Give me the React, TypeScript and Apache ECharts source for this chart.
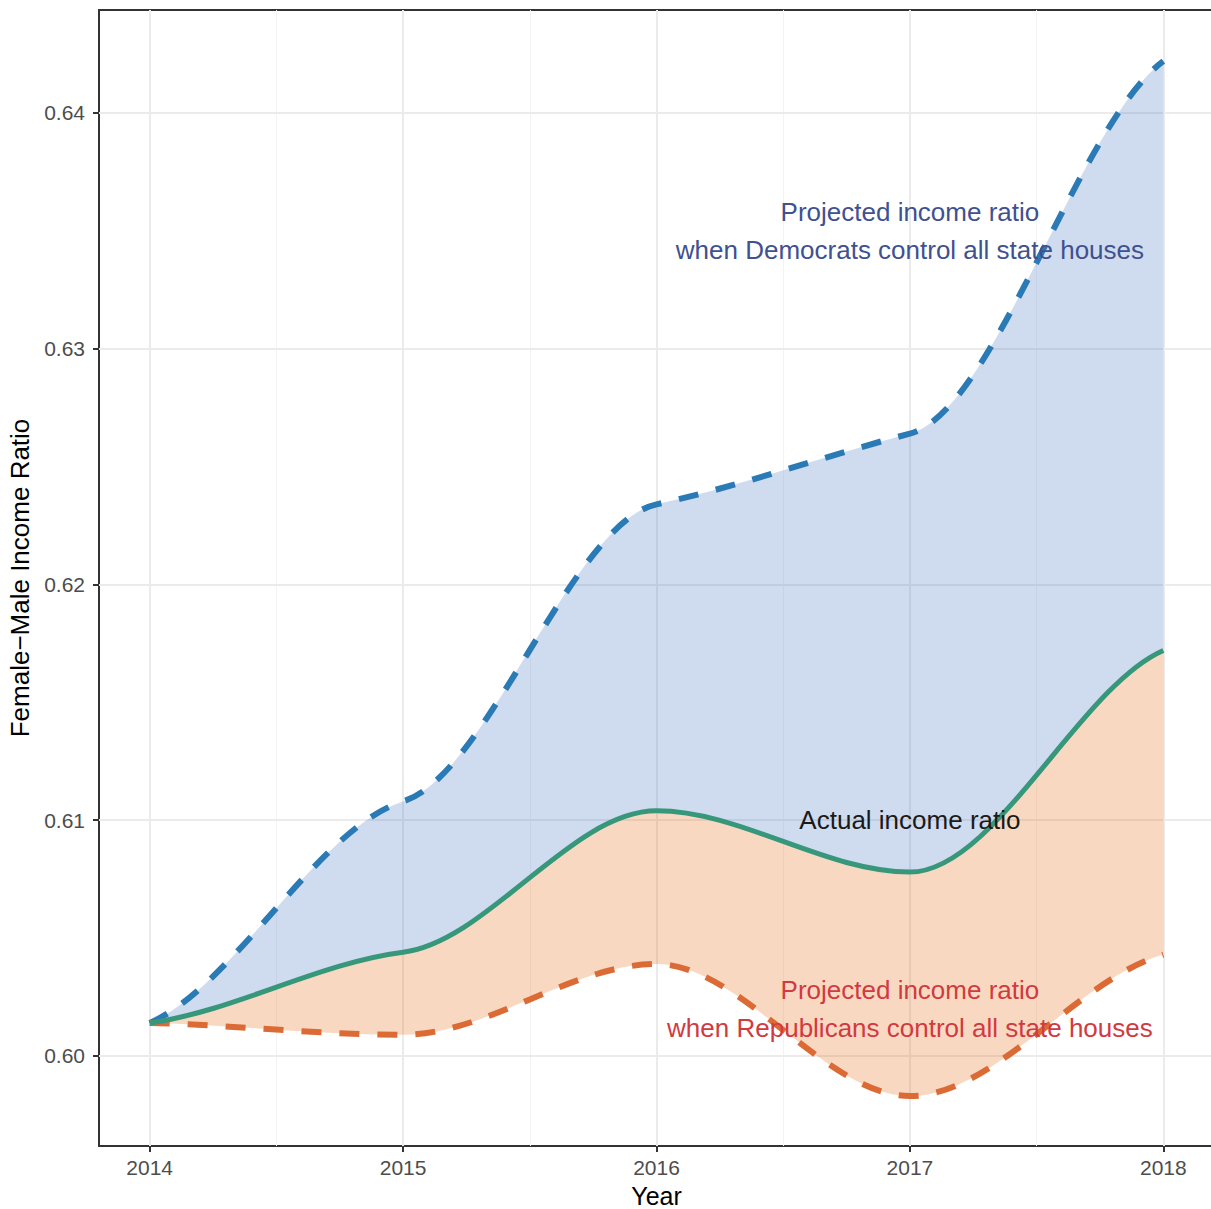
import React, { useEffect, useRef } from "react";
import * as echarts from "echarts";

const years = [2014, 2015, 2016, 2017, 2018];
const democrats = [0.6014, 0.6108, 0.6234, 0.6264, 0.6422];
const actual = [0.6014, 0.6044, 0.6104, 0.6078, 0.6172];
const republicans = [0.6014, 0.6009, 0.6039, 0.5983, 0.6043];

const xTickValues = [2014, 2015, 2016, 2017, 2018];
const xMinorValues = [2014.5, 2015.5, 2016.5, 2017.5];
const yTickValues = [0.6, 0.61, 0.62, 0.63, 0.64];
const yMinorValues = [0.605, 0.615, 0.625, 0.635];

const annotationTexts = [
  "Projected income ratio\nwhen Democrats control all state houses",
  "Actual income ratio",
  "Projected income ratio\nwhen Republicans control all state houses",
];
const annotationAt = [
  [2017, 0.635],
  [2017, 0.61],
  [2017, 0.602],
];

const FONT = '"Liberation Sans", Arial, Helvetica, sans-serif';

type Pt = [number, number];

function tangents(pts: Pt[]): number[] {
  const n = pts.length;
  const slope = (a: number, b: number) =>
    (pts[b][1] - pts[a][1]) / (pts[b][0] - pts[a][0]);
  const m: number[] = [];
  for (let i = 0; i < n; i++) {
    if (i === 0) m.push(0.5 * slope(0, 1));
    else if (i === n - 1) m.push(0.5 * slope(n - 2, n - 1));
    else {
      const d0 = slope(i - 1, i);
      const d1 = slope(i, i + 1);
      m.push(d0 * d1 <= 0 ? 0 : (0.3 * (d0 + d1)) / 2);
    }
  }
  return m;
}

function segs(pts: Pt[]) {
  const m = tangents(pts);
  const out: { p0: Pt; c1: Pt; c2: Pt; p1: Pt }[] = [];
  for (let i = 0; i < pts.length - 1; i++) {
    const dx = pts[i + 1][0] - pts[i][0];
    out.push({
      p0: pts[i],
      c1: [pts[i][0] + dx / 3, pts[i][1] + (m[i] * dx) / 3],
      c2: [pts[i + 1][0] - dx / 3, pts[i + 1][1] - (m[i + 1] * dx) / 3],
      p1: pts[i + 1],
    });
  }
  return out;
}

function forwardPath(pts: Pt[]) {
  const s = segs(pts);
  let d = `M${pts[0][0]},${pts[0][1]}`;
  s.forEach((g) => {
    d += ` C${g.c1[0]},${g.c1[1]} ${g.c2[0]},${g.c2[1]} ${g.p1[0]},${g.p1[1]}`;
  });
  return d;
}

function backwardPath(pts: Pt[]) {
  const s = segs(pts);
  const last = pts[pts.length - 1];
  let d = ` L${last[0]},${last[1]}`;
  for (let i = s.length - 1; i >= 0; i--) {
    const g = s[i];
    d += ` C${g.c2[0]},${g.c2[1]} ${g.c1[0]},${g.c1[1]} ${g.p0[0]},${g.p0[1]}`;
  }
  return d + " Z";
}

export default function App() {
  const ref = useRef<HTMLDivElement>(null);
  useEffect(() => {
    if (!ref.current) return;
    const chart = echarts.init(ref.current, undefined, { renderer: "svg" });
    const major = { color: "#ebebeb", width: 2, type: "solid" as const };
    const minor = { color: "#f3f3f3", width: 1, type: "solid" as const };
    const option: any = {
      animation: false,
      backgroundColor: "#ffffff",
      grid: {
        left: 99,
        top: 10,
        width: 1115,
        height: 1136,
        show: true,
        borderColor: "#333333",
        borderWidth: 2,
        backgroundColor: "transparent",
        containLabel: false,
        outerBoundsMode: "none",
      },
      xAxis: {
        type: "value",
        min: 2013.8,
        max: 2018.2,
        name: "Year",
        nameLocation: "middle",
        nameGap: 29,
        nameTextStyle: {
          color: "#000",
          fontSize: 25,
          fontFamily: FONT,
          lineHeight: 26,
        },
        axisLine: { show: false },
        axisTick: {
          show: true,
          customValues: xTickValues,
          length: 6,
          lineStyle: { color: "#333333", width: 2 },
        },
        axisLabel: {
          customValues: xTickValues,
          color: "#4d4d4d",
          fontSize: 21,
          fontFamily: FONT,
          margin: 11,
          formatter: (v: number) => String(Math.round(v)),
        },
        splitLine: { show: false },
      },
      yAxis: {
        type: "value",
        min: 0.596182,
        max: 0.644369,
        name: "Female\u2212Male Income Ratio",
        nameLocation: "middle",
        nameGap: 62,
        nameTextStyle: { color: "#000", fontSize: 26, fontFamily: FONT },
        axisLine: { show: false },
        axisTick: {
          show: true,
          customValues: yTickValues,
          length: 6,
          lineStyle: { color: "#333333", width: 2 },
        },
        axisLabel: {
          customValues: yTickValues,
          color: "#4d4d4d",
          fontSize: 21,
          fontFamily: FONT,
          margin: 14,
          formatter: (v: number) => v.toFixed(2),
        },
        splitLine: { show: false },
      },
      series: [
        {
          type: "line",
          data: [],
          z: 1,
          silent: true,
          markLine: {
            silent: true,
            z: 1,
            symbol: ["none", "none"],
            label: { show: false },
            emphasis: { disabled: true },
            data: [
              ...xMinorValues.map((v) => ({ xAxis: v, lineStyle: minor })),
              ...yMinorValues.map((v) => ({ yAxis: v, lineStyle: minor })),
              ...xTickValues.map((v) => ({ xAxis: v, lineStyle: major })),
              ...yTickValues.map((v) => ({ yAxis: v, lineStyle: major })),
            ],
          },
        },
        {
          type: "custom",
          z: 10,
          silent: true,
          data: years.map((y, i) => [y, actual[i]]),
          renderItem: (params: any, api: any) => {
            if (params.dataIndex !== 0) return null;
            const toPts = (vals: number[]): Pt[] =>
              years.map((y, i) => api.coord([y, vals[i]]) as Pt);
            const dem = toPts(democrats);
            const act = toPts(actual);
            const rep = toPts(republicans);
            const children: any[] = [
              {
                type: "path",
                shape: { pathData: forwardPath(dem) + backwardPath(act) },
                style: { fill: "rgba(62,112,188,0.25)", stroke: "none" },
              },
              {
                type: "path",
                shape: { pathData: forwardPath(act) + backwardPath(rep) },
                style: { fill: "rgba(232,110,30,0.27)", stroke: "none" },
              },
              {
                type: "path",
                shape: { pathData: forwardPath(dem) },
                style: {
                  fill: "none",
                  stroke: "#2a7ab5",
                  lineWidth: 6,
                  lineDash: [20, 18],
                },
              },
              {
                type: "path",
                shape: { pathData: forwardPath(rep) },
                style: {
                  fill: "none",
                  stroke: "#dc6a35",
                  lineWidth: 6,
                  lineDash: [20, 18],
                },
              },
              {
                type: "path",
                shape: { pathData: forwardPath(act) },
                style: { fill: "none", stroke: "#37977a", lineWidth: 5 },
              },
            ];
            const colors = ["#3f5190", "#1a1a1a", "#d13a3f"];
            annotationTexts.forEach((t, i) => {
              const p = api.coord(annotationAt[i]);
              children.push({
                type: "text",
                x: p[0],
                y: p[1],
                style: {
                  text: t,
                  fill: colors[i],
                  fontSize: 26,
                  fontFamily: FONT,
                  align: "center",
                  verticalAlign: "middle",
                  lineHeight: 38,
                },
              });
            });
            return { type: "group", children };
          },
        },
      ],
    };
    chart.setOption(option);
    return () => chart.dispose();
  }, []);
  return (
    <div
      style={{
        position: "absolute",
        left: 0,
        top: 0,
        width: 1211,
        height: 1209,
        overflow: "hidden",
      }}
    >
      <div ref={ref} style={{ width: 1222, height: 1209 }} />
    </div>
  );
}
